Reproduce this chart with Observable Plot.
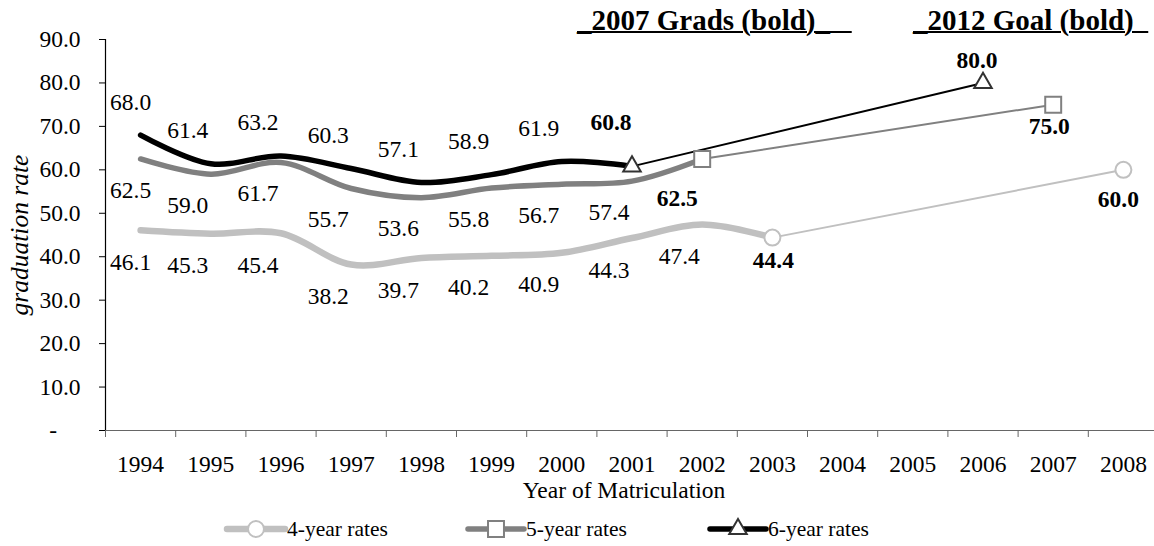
<!DOCTYPE html>
<html>
<head>
<meta charset="utf-8">
<script src="https://cdn.jsdelivr.net/npm/d3@7"></script>
<script src="https://cdn.jsdelivr.net/npm/@observablehq/plot@0.6"></script>
<style>
  body { margin: 0; background: #fff; }
  #wrap { position: relative; width: 1154px; height: 546px; overflow: hidden;
          font-family: "Liberation Serif", "Times New Roman", serif; color: #000; }
  .hdr { position: absolute; font-weight: bold; font-size: 29px; line-height: 29px;
         text-decoration: underline; text-decoration-thickness: 2px; white-space: pre; }
  #legend { display: block; }
</style>
</head>
<body>
<div id="wrap"></div>
<script>
// ---------------- data ----------------
const years = [1994, 1995, 1996, 1997, 1998, 1999, 2000, 2001, 2002, 2003, 2004, 2005, 2006, 2007, 2008];
const yTicks = [0, 10, 20, 30, 40, 50, 60, 70, 80, 90];

// graduation rates by year of matriculation (starting 1994)
const rate4 = [46.1, 45.3, 45.4, 38.2, 39.7, 40.2, 40.9, 44.3, 47.4, 44.4];
const rate5 = [62.5, 59.0, 61.7, 55.7, 53.6, 55.8, 56.7, 57.4, 62.5];
const rate6 = [68.0, 61.4, 63.2, 60.3, 57.1, 58.9, 61.9, 60.8];

const seriesNames = ["4-year rates", "5-year rates", "6-year rates"];
const goalYears = [2008, 2007, 2006];
const goalValues = [60.0, 75.0, 80.0];

const headerGrads = "_2007 Grads (bold)_   ";
const headerGoal = "_2012 Goal (bold)  ";
const xTitle = "Year of Matriculation";
const yTitle = "graduation rate";

// ---------------- styles ----------------
const styles = [
  {stroke: "#c0c0c0", mark: "#c0c0c0", symbol: "circle", r: 8, thick: 6.5, thin: 2,
   dy: 32, curDx: 1, curDy: 23, goalDx: -5, goalDy: 30},
  {stroke: "#808080", mark: "#808080", symbol: "square", r: 9, thick: 5.5, thin: 2,
   dy: 31, curDx: -25, curDy: 39, goalDx: -4, goalDy: 22},
  {stroke: "#000000", mark: "#333333", symbol: "triangle", r: 6.5, thick: 5.5, thin: 2,
   dy: -33, curDx: -21, curDy: -44, goalDx: -6, goalDy: -22}
];

const rates = [rate4, rate5, rate6];
const series = rates.map((vals, k) => {
  const pts = vals.map((v, i) => ({year: years[i], value: v, i}));
  const cur = pts[pts.length - 1];
  const goal = {year: goalYears[k], value: goalValues[k]};
  return {name: seriesNames[k], pts, cur, goal, st: styles[k]};
});

const xDomain = [years[0] - 0.5, years[years.length - 1] + 0.5];
const boundaries = years.map(y => y - 0.5).concat([xDomain[1]]);

const font = "Liberation Serif";
const fs = 23.5;

const marks = [];
// axes
marks.push(Plot.ruleY([0], {stroke: "#666", strokeWidth: 1.2}));
marks.push(Plot.ruleX([xDomain[0]], {y1: yTicks[0], y2: yTicks[yTicks.length - 1], stroke: "#000", strokeWidth: 1.2}));
marks.push(Plot.axisX({ticks: boundaries, tickSize: 7, tickFormat: () => "", stroke: "#666", label: null}));
marks.push(Plot.axisX({ticks: years, tickSize: 0, tickPadding: 25, tickFormat: d => String(d), label: null, fill: "#000"}));
marks.push(Plot.axisY({ticks: yTicks, tickSize: 6, tickPadding: 19, stroke: "#000", label: null, fill: "#000",
  tickFormat: d => d === 0 ? "-\u00a0\u00a0\u00a0\u00a0" : d.toFixed(1)}));
marks.push(Plot.text([yTitle], {frameAnchor: "left", textAnchor: "middle", dx: -86, rotate: -90, fontStyle: "italic", fontSize: 25.5}));
marks.push(Plot.text([xTitle], {frameAnchor: "bottom", dy: 67, dx: -6, textAnchor: "middle", lineAnchor: "bottom", fontSize: fs}));

// thin lines to goal
series.forEach(s => {
  marks.push(Plot.line([s.cur, s.goal], {x: "year", y: "value", stroke: s.st.stroke, strokeWidth: s.st.thin}));
});
// thick smoothed lines
series.forEach(s => {
  marks.push(Plot.line(s.pts, {x: "year", y: "value", stroke: s.st.stroke, strokeWidth: s.st.thick, curve: "catmull-rom"}));
});
// markers
series.forEach(s => {
  marks.push(Plot.dot([s.cur, s.goal], {x: "year", y: "value", symbol: s.st.symbol, r: s.st.r,
    stroke: s.st.mark, strokeWidth: 2, fill: "#fff"}));
});
// labels
series.forEach(s => {
  const first = s.pts.slice(0, 1);
  const mid = s.pts.slice(1, -1);
  marks.push(Plot.text(first, {x: "year", y: "value", text: d => d.value.toFixed(1), dx: -10, dy: s.st.dy, fontSize: fs}));
  marks.push(Plot.text(mid, {x: "year", y: "value", text: d => d.value.toFixed(1), dx: -23, dy: s.st.dy, fontSize: fs}));
  marks.push(Plot.text([s.cur], {x: "year", y: "value", text: d => d.value.toFixed(1), dx: s.st.curDx, dy: s.st.curDy, fontSize: fs, fontWeight: "bold"}));
  marks.push(Plot.text([s.goal], {x: "year", y: "value", text: d => d.value.toFixed(1), dx: s.st.goalDx, dy: s.st.goalDy, fontSize: fs, fontWeight: "bold"}));
});

const chart = Plot.plot({
  width: 1154,
  height: 510,
  marginLeft: 105,
  marginRight: 0,
  marginTop: 39,
  marginBottom: 80,
  style: {fontFamily: font, fontSize: fs + "px", color: "#000", background: "#fff", overflow: "visible"},
  x: {type: "linear", domain: xDomain, range: [105, 1158], label: null},
  y: {domain: [0, 90], range: [430, 39], label: null},
  marks
});

const wrap = document.getElementById("wrap");
wrap.appendChild(chart);

// headers
const h1 = document.createElement("div");
h1.className = "hdr"; h1.textContent = headerGrads;
h1.style.left = "577px"; h1.style.top = "6px";
wrap.appendChild(h1);
const h2 = document.createElement("div");
h2.className = "hdr"; h2.textContent = headerGoal;
h2.style.left = "913px"; h2.style.top = "6px";
wrap.appendChild(h2);

// legend
const legendPos = [{x0: 227, x1: 285}, {x0: 468, x1: 524}, {x0: 710, x1: 766}];
const lg = d3.create("svg").attr("id", "legend").attr("width", 1154).attr("height", 36)
  .style("font-family", font).style("font-size", "21.5px");
series.forEach((s, k) => {
  const p = legendPos[k];
  const cy = 19, cx = (p.x0 + p.x1) / 2;
  const g = lg.append("g");
  g.append("line").attr("x1", p.x0).attr("x2", p.x1).attr("y1", cy).attr("y2", cy)
    .attr("stroke", s.st.stroke).attr("stroke-width", s.st.thick).attr("stroke-linecap", "round");
  const sym = s.st.symbol === "circle" ? d3.symbolCircle : s.st.symbol === "square" ? d3.symbolSquare : d3.symbolTriangle;
  g.append("path").attr("d", d3.symbol(sym, Math.PI * s.st.r * s.st.r)())
    .attr("transform", `translate(${cx},${cy})`)
    .attr("fill", "#fff").attr("stroke", s.st.mark).attr("stroke-width", 2);
  g.append("text").attr("x", p.x1 + 2).attr("y", cy + 7).text(s.name);
});
wrap.appendChild(lg.node());
</script>
</body>
</html>
